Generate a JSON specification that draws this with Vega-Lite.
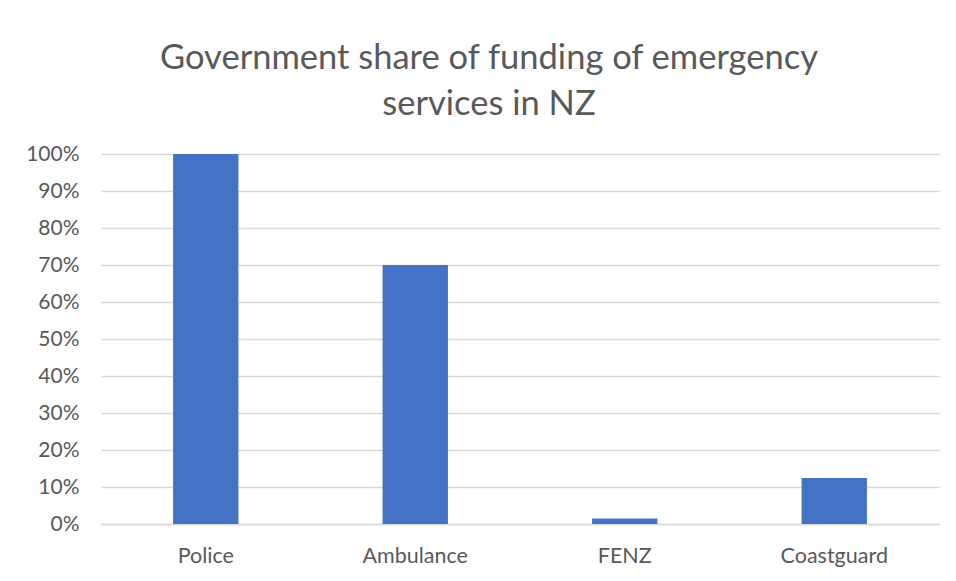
{
  "$schema": "https://vega.github.io/schema/vega-lite/v6.json",
  "autosize": {"type": "none"},
  "width": 838,
  "height": 370,
  "padding": {"left": 101, "top": 154, "right": 17, "bottom": 57},
  "background": "white",
  "title": {
    "text": ["Government share of funding of emergency", "services in NZ"],
    "font": "Lato",
    "fontSize": 34.5,
    "fontWeight": "normal",
    "color": "#595959",
    "anchor": "middle",
    "lineHeight": 46,
    "dx": -31,
    "offset": 21
  },
  "data": {
    "values": [
      {"service": "Police", "share": 1.0},
      {"service": "Ambulance", "share": 0.70},
      {"service": "FENZ", "share": 0.015},
      {"service": "Coastguard", "share": 0.124}
    ]
  },
  "mark": {"type": "bar", "color": "#4472C4"},
  "encoding": {
    "x": {
      "field": "service",
      "type": "nominal",
      "sort": null,
      "scale": {"paddingInner": 0.688, "paddingOuter": 0.344},
      "axis": {
        "title": null,
        "labelAngle": 0,
        "labelFont": "Lato",
        "labelFontSize": 21.5,
        "labelColor": "#595959",
        "labelPadding": 21,
        "ticks": false,
        "domainColor": "#d9d9d9",
        "domainWidth": 1.3
      }
    },
    "y": {
      "field": "share",
      "type": "quantitative",
      "scale": {"domain": [0, 1], "nice": false},
      "axis": {
        "title": null,
        "format": ".0%",
        "values": [0, 0.1, 0.2, 0.3, 0.4, 0.5, 0.6, 0.7, 0.8, 0.9, 1.0],
        "labelFont": "Lato",
        "labelFontSize": 21,
        "labelColor": "#595959",
        "labelPadding": 22,
        "ticks": false,
        "domain": false,
        "gridColor": "#d9d9d9",
        "gridWidth": 1.3
      }
    }
  },
  "config": {"view": {"stroke": null}}
}
